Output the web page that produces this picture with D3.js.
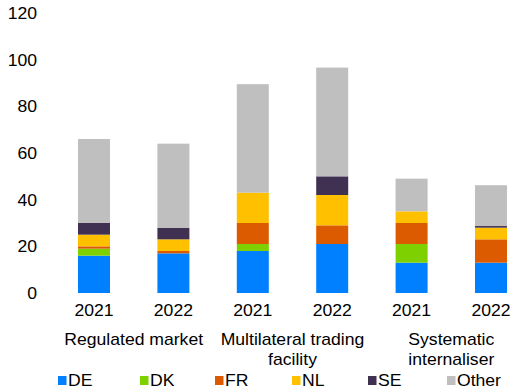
<!DOCTYPE html>
<html><head><meta charset="utf-8">
<script src="https://cdn.jsdelivr.net/npm/d3@7"></script>
<style>body{margin:0;background:#fff}text{font-family:"Liberation Sans",Arial,sans-serif;fill:#000}</style>
</head><body><svg id="c" width="512" height="392"></svg>
<script>
const years = ["2021","2022","2021","2022","2021","2022"];
const groups = [["Regulated market"],["Multilateral trading","facility"],["Systematic","internaliser"]];
const seriesNames = ["DE","DK","FR","NL","SE","Other"];
const colors = ["#0080FF","#7ED000","#DC5A00","#FFC000","#403152","#BFBFBF"];
const DE    = [16,17,18,21,13,13];
const DK    = [3,0,3,0,8,0];
const FR    = [1,1,9,8,9,10];
const NL    = [5,5,13,13,5,5];
const SE    = [5,5,0,8,0,0.7];
const Other = [36,36,46.5,46.6,14,17.5];
const yTicks = [0,20,40,60,80,100,120];

const FS = "16px", SX = 1.1;
const svg = d3.select("#c");
const y = d3.scaleLinear().domain([0,120]).range([293,13]);
const x = d3.scaleBand().domain(d3.range(6)).range([54.3,530.7]).paddingInner(0.597).paddingOuter(0.2985);
const vals = [DE,DK,FR,NL,SE,Other];
const rows = d3.range(6).map(i => { const o={i}; seriesNames.forEach((s,k)=>o[s]=vals[k][i]); return o; });
const stack = d3.stack().keys(seriesNames)(rows);

svg.append("g").selectAll("g").data(stack).join("g").attr("fill",(d,k)=>colors[k])
  .selectAll("rect").data(d=>d).join("rect")
  .attr("x",d=>x(d.data.i)).attr("width",x.bandwidth())
  .attr("y",d=>y(d[1])).attr("height",d=>y(d[0])-y(d[1]));

const ya = d3.axisLeft(y).tickValues(yTicks).tickSize(0).tickPadding(0);
const g = svg.append("g").attr("transform","translate(37,0)").call(ya);
g.select(".domain").remove();
g.selectAll("text").style("font-size",FS).attr("font-family",null).attr("fill","#000").attr("dy","0.35em").attr("transform",`scale(${SX},1)`);

const xa = d3.axisBottom(x).tickFormat(i=>years[i]).tickSize(0).tickPadding(0);
const gx = svg.append("g").attr("transform","translate(0,316)").call(xa);
gx.select(".domain").remove();
gx.selectAll("text").style("font-size",FS).attr("font-family",null).attr("fill","#000").attr("dy","0").attr("y",0).attr("transform",`scale(${SX},1)`);

function txt(x0,y0,t,anchor){
  svg.append("text").attr("transform",`translate(${x0},${y0}) scale(${SX},1)`).attr("text-anchor",anchor).style("font-size",FS).text(t);
}
groups.forEach((lines,gi)=>{
  const cx = (x(gi*2)+x(gi*2+1)+x.bandwidth())/2;
  lines.forEach((t,li)=>txt(cx,345+li*20,t,"middle"));
});

const legX = [58,140,215,292,368,447];
seriesNames.forEach((s,k)=>{
  svg.append("rect").attr("x",legX[k]).attr("y",376).attr("width",8.5).attr("height",9).attr("fill",colors[k]);
  txt(legX[k]+10,386,s,"start");
});
</script></body></html>
